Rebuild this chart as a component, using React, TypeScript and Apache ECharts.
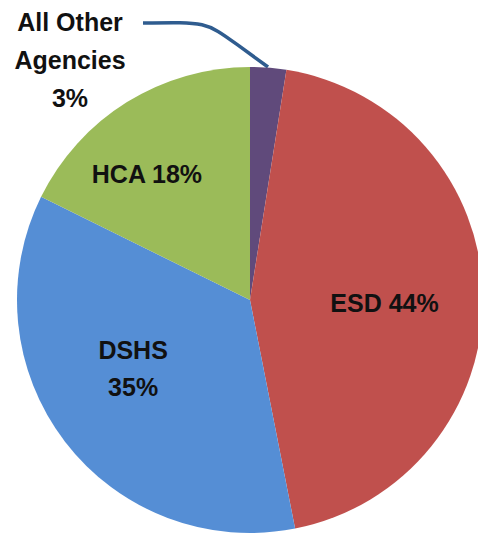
import React, { useEffect, useRef } from "react";
import * as echarts from "echarts";

const categories = ["All Other Agencies", "ESD", "DSHS", "HCA"];
const values = [2.5, 44.4, 35.4, 17.7];
const labelTexts = ["All Other\nAgencies\n3%", "ESD 44%", "DSHS\n35%", "HCA 18%"];
const colors = ["#604A7B", "#C0504D", "#558ED5", "#9BBB59"];

export default function App() {
  const ref = useRef<HTMLDivElement>(null);
  useEffect(() => {
    if (!ref.current) return;
    const chart = echarts.init(ref.current, null, { renderer: "svg" });
    const font = {
      fontFamily: "Liberation Sans, Arial, sans-serif",
      fontWeight: "bold" as const,
      fontSize: 25,
      color: "#111",
    };
    const offsets: Record<number, number[]> = { 1: [15, 5], 2: [-22, -4], 3: [-40, -25] };
    chart.setOption({
      animation: false,
      backgroundColor: "#ffffff",
      series: [
        {
          type: "pie",
          center: [250, 300],
          radius: 233,
          startAngle: 90,
          clockwise: true,
          data: categories.map((name, i) => ({
            name,
            value: values[i],
            itemStyle: { color: colors[i] },
            label:
              i === 0
                ? {
                    show: true,
                    position: "outside",
                    formatter: () => labelTexts[i],
                    align: "center",
                    lineHeight: 38,
                    ...font,
                  }
                : {
                    show: true,
                    position: "inside",
                    formatter: () => labelTexts[i],
                    align: "center",
                    lineHeight: 37,
                    offset: offsets[i],
                    ...font,
                  },
            labelLine:
              i === 0
                ? {
                    show: true,
                    length: 10,
                    length2: 40,
                    smooth: 1,
                    lineStyle: { color: "#2F5C8F", width: 3.5 },
                  }
                : { show: false },
          })),
          labelLayout: (params: any) => {
            if (params.dataIndex === 0) {
              return {
                x: 70,
                y: 60,
                align: "center",
                verticalAlign: "middle",
                labelLinePoints: [
                  [268, 67],
                  [254, 21],
                  [143, 23],
                ],
              };
            }
            return {};
          },
          itemStyle: { borderWidth: 0 },
          emphasis: { disabled: true },
        },
      ],
    });
    return () => chart.dispose();
  }, []);
  return (
    <div
      ref={ref}
      style={{ position: "fixed", left: 0, top: 0, width: 478, height: 536 }}
    />
  );
}
